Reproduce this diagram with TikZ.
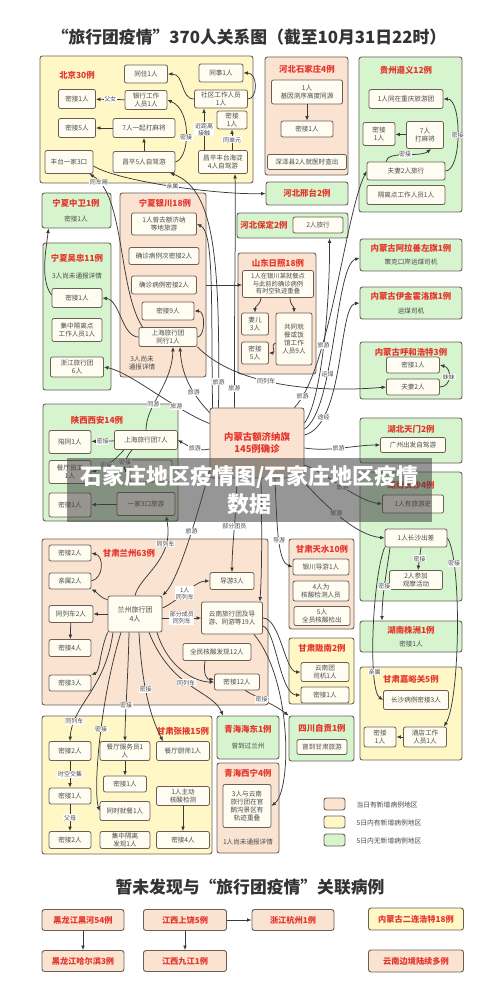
\documentclass[tikz,border=0pt]{standalone}
\usepackage{fontspec}
\setmainfont{Noto Sans CJK SC}
\usetikzlibrary{arrows.meta,positioning}
\definecolor{ink}{HTML}{3A3A3A}
\definecolor{txt}{HTML}{4A4A4A}
\definecolor{redt}{HTML}{E5352B}
\definecolor{peach}{HTML}{FBE3D2}
\definecolor{lemon}{HTML}{FFF8C6}
\definecolor{mint}{HTML}{D6F4CE}
\definecolor{cream}{HTML}{FFFDF2}
\definecolor{rim}{HTML}{6A5E55}
\tikzset{
  link/.style={-{Latex[length=4.5pt,width=3.8pt]},line width=0.75pt,draw=ink},
  zone/.style={draw=rim,line width=0.9pt,rounded corners=2.5pt,inner sep=0pt},
  cell/.style={draw=rim,line width=0.8pt,rounded corners=2pt,fill=cream,align=center,
               inner sep=1pt,text=txt,font=\fontsize{6.6}{7.8}\selectfont},
  head/.style={text=redt,font=\bfseries\fontsize{8.4}{10}\selectfont},
  plain/.style={text=txt,align=center,font=\fontsize{6.6}{7.8}\selectfont},
  tag/.style={fill=white,inner sep=0.6pt,text=txt,align=center,font=\fontsize{6}{7}\selectfont},
  other/.style={zone,fill=peach,minimum width=82,minimum height=21,text=redt,
                font=\bfseries\fontsize{8.2}{10}\selectfont},
  bigtitle/.style={text=black!80,font=\bfseries\fontsize{16.8}{20}\selectfont},
  legend/.style={anchor=west,text=txt,font=\fontsize{6.8}{8}\selectfont},
}
\begin{document}
\begin{tikzpicture}[x=1pt,y=1pt]
  \useasboundingbox (0,0) rectangle (500,-981);
  \fill[white] (0,0) rectangle (500,-981);
  \node[bigtitle] (title) at (249,-37) {“旅行团疫情”370人关系图（截至10月31日22时）};

  % 北京
  \node[zone,fill=lemon,minimum width=213,minimum height=127] (bj) at (146.5,-119.5) {};
  \node[head] (bjT) at (77,-75) {北京30例};
  \node[cell,minimum width=43,minimum height=18] (bjTong) at (146,-74) {同住1人};
  \node[cell,minimum width=44,minimum height=18] (bjShi) at (221,-73) {同事1人};
  \node[cell,minimum width=37,minimum height=19] (bjMj1) at (77,-99) {密接1人};
  \node[cell,minimum width=42,minimum height=19] (bjBank) at (146,-100) {银行工作\\人员1人};
  \node[cell,minimum width=53,minimum height=18] (bjSq) at (221,-99) {社区工作人员\\1人};
  \node[cell,minimum width=37,minimum height=19] (bjMj5) at (77,-128) {密接5人};
  \node[cell,minimum width=62,minimum height=19] (bjMah) at (144,-128) {7人一起打麻将};
  \node[cell,minimum width=30,minimum height=18] (bjMjR) at (232,-120) {密接\\1人};
  \node[cell,minimum width=48,minimum height=23] (bjFt) at (69,-162) {丰台一家3口};
  \node[cell,minimum width=62,minimum height=21] (bjCp) at (144,-162) {昌平5人自驾游};
  \node[cell,minimum width=49,minimum height=23] (bjCpft) at (223,-162) {昌平丰台海淀\\4人自驾游};

  % 河北
  \node[zone,fill=peach,minimum width=83,minimum height=118] (sjz) at (306.5,-116) {};
  \node[head] (sjzT) at (307,-69) {河北石家庄4例};
  \node[cell,minimum width=71,minimum height=24] (sjzA) at (307,-92) {1人\\基因测序高度同源};
  \node[cell,minimum width=52,minimum height=16] (sjzB) at (307,-129) {密接1人};
  \node[cell,minimum width=79,minimum height=15] (sjzC) at (307,-162) {深泽县2人就医时查出};
  \node[zone,head,fill=mint,minimum width=82,minimum height=23] (xt) at (307,-193.5) {河北邢台2例};
  \node[zone,fill=mint,minimum width=111,minimum height=25] (bd) at (292.5,-225.5) {};
  \node[head] (bdT) at (264,-225) {河北保定2例};
  \node[cell,minimum width=50,minimum height=16] (bdA) at (318,-225) {2人旅行};

  % 贵州
  \node[zone,fill=mint,minimum width=103,minimum height=155] (gz) at (410.5,-134.5) {};
  \node[head] (gzT) at (406,-70) {贵州遵义12例};
  \node[cell,minimum width=74,minimum height=19] (gzA) at (406,-99) {1人同在重庆旅游团};
  \node[cell,minimum width=32,minimum height=23] (gzB) at (379,-134) {密接\\1人};
  \node[cell,minimum width=37,minimum height=27] (gzC) at (425,-135) {7人\\打麻将};
  \node[cell,minimum width=78,minimum height=18] (gzD) at (406,-171) {夫妻2人旅行};
  \node[cell,minimum width=78,minimum height=19] (gzE) at (406,-195) {隔离点工作人员1人};

  % 宁夏
  \node[zone,fill=mint,minimum width=69,minimum height=35] (zw) at (76.5,-210.5) {};
  \node[head] (zwT) at (76,-203) {宁夏中卫1例};
  \node[plain] (zwA) at (76,-219) {密接1人};
  \node[zone,fill=mint,minimum width=68,minimum height=147] (wz) at (77,-316.5) {};
  \node[head] (wzT) at (77,-258) {宁夏吴忠11例};
  \node[plain] (wzN) at (77,-276) {3人尚未通报详情};
  \node[cell,minimum width=50,minimum height=19] (wzA) at (77,-298) {密接1人};
  \node[cell,minimum width=50,minimum height=23] (wzB) at (77,-330) {集中隔离点\\工作人员1人};
  \node[cell,minimum width=53,minimum height=20] (wzC) at (77,-367) {浙江旅行团\\6人};
  \node[zone,fill=peach,minimum width=86,minimum height=184] (yc) at (163,-285) {};
  \node[head] (ycT) at (165,-203) {宁夏银川18例};
  \node[cell,minimum width=65,minimum height=22] (ycA) at (164,-224) {1人曾去额济纳\\等地旅游};
  \node[cell,minimum width=70,minimum height=17] (ycB) at (164,-256) {确诊病例次密接2人};
  \node[cell,minimum width=65,minimum height=18] (ycC) at (164,-285) {确诊病例密接2人};
  \node[cell,minimum width=52,minimum height=18] (ycD) at (168,-311) {密接9人};
  \node[cell,minimum width=58,minimum height=19] (ycE) at (168,-337) {上海旅行团\\同行1人};
  \node[plain] (ycN) at (142,-363) {3人尚未\\通报详情};

  % 山东
  \node[zone,fill=peach,minimum width=78,minimum height=121] (sd) at (277,-313.5) {};
  \node[head] (sdT) at (278,-263) {山东日照18例};
  \node[cell,minimum width=71,minimum height=27,font=\fontsize{6.3}{7.6}\selectfont] (sdA) at (278,-284)
    {1人在银川某就餐点\\与此前的确诊病例\\有时空轨迹重叠};
  \node[cell,minimum width=27,minimum height=22] (sdB) at (255,-324) {妻儿\\3人};
  \node[cell,minimum width=27,minimum height=22] (sdC) at (255,-353) {密接\\5人};
  \node[cell,minimum width=36,minimum height=52] (sdD) at (294,-339) {共同就\\餐或饭\\馆工作\\人员9人};

  % 内蒙古 湖北 湖南 嘉峪关
  \node[zone,fill=mint,minimum width=102,minimum height=32] (al) at (411,-255) {};
  \node[head] (alT) at (411,-248) {内蒙古阿拉善左旗1例};
  \node[plain] (alA) at (411,-262) {策克口岸运煤司机};
  \node[zone,fill=mint,minimum width=102,minimum height=32] (yj) at (411,-303) {};
  \node[head] (yjT) at (411,-296) {内蒙古伊金霍洛旗1例};
  \node[plain] (yjA) at (411,-311) {运煤司机};
  \node[zone,fill=mint,minimum width=102,minimum height=57] (hh) at (411,-370.5) {};
  \node[head] (hhT) at (411,-352) {内蒙古呼和浩特3例};
  \node[cell,minimum width=53,minimum height=16] (hhA) at (413,-365) {密接1人};
  \node[cell,minimum width=53,minimum height=16] (hhB) at (413,-387) {夫妻2人};
  \node[zone,fill=mint,minimum width=102,minimum height=45] (tm) at (411,-440.5) {};
  \node[head] (tmT) at (411,-429) {湖北天门2例};
  \node[cell,minimum width=65,minimum height=15] (tmA) at (413,-445) {广州出发自驾游};
  \node[zone,fill=mint,minimum width=102,minimum height=129] (cs) at (411,-536.5) {};
  \node[head] (csT) at (411,-485) {湖南长沙4例};
  \node[cell,minimum width=61,minimum height=18] (csA) at (413,-504) {1人有旅游史};
  \node[cell,minimum width=62,minimum height=18] (csB) at (416,-538) {1人长沙出差};
  \node[cell,minimum width=53,minimum height=19] (csC) at (416,-580) {2人参加\\观摩活动};
  \node[zone,fill=mint,minimum width=102,minimum height=31] (zz) at (411,-636.5) {};
  \node[head] (zzT) at (411,-630) {湖南株洲1例};
  \node[plain] (zzA) at (411,-644) {密接1人};
  \node[zone,fill=lemon,minimum width=102,minimum height=93] (jy) at (411,-713.5) {};
  \node[head] (jyT) at (411,-679) {甘肃嘉峪关5例};
  \node[cell,minimum width=65,minimum height=19] (jyA) at (416,-700) {长沙病例密接3人};
  \node[cell,minimum width=32,minimum height=20] (jyB) at (380,-737) {密接\\1人};
  \node[cell,minimum width=43,minimum height=20] (jyC) at (425,-737) {酒店工作\\人员1人};

  % 天水 陇南 自贡 青海
  \node[zone,fill=peach,minimum width=65,minimum height=90] (ts) at (321.5,-584) {};
  \node[head] (tsT) at (322,-549) {甘肃天水10例};
  \node[cell,minimum width=56,minimum height=16] (tsA) at (321,-567) {银川导游1人};
  \node[cell,minimum width=56,minimum height=20] (tsB) at (321,-591) {4人为\\核酸检测人员};
  \node[cell,minimum width=56,minimum height=19] (tsC) at (322,-616) {5人\\全员核酸检出};
  \node[zone,fill=lemon,minimum width=65,minimum height=66] (ln) at (321.5,-671) {};
  \node[head] (lnT) at (322,-648) {甘肃陇南2例};
  \node[cell,minimum width=48,minimum height=19] (lnA) at (325,-672) {云南团\\司机1人};
  \node[cell,minimum width=48,minimum height=16] (lnB) at (325,-695) {密接1人};
  \node[zone,fill=mint,minimum width=65,minimum height=45] (zg) at (321.5,-738.5) {};
  \node[head] (zgT) at (322,-728) {四川自贡1例};
  \node[cell,minimum width=50,minimum height=15] (zgA) at (322,-747) {曾到甘肃旅游};
  \node[zone,fill=mint,minimum width=62,minimum height=43] (hd) at (248,-737.5) {};
  \node[head] (hdT) at (248,-729) {青海海东1例};
  \node[plain] (hdA) at (248,-746) {曾到过兰州};
  \node[zone,fill=peach,minimum width=62,minimum height=90] (xn) at (248,-808) {};
  \node[head] (xnT) at (248,-773) {青海西宁4例};
  \node[cell,minimum width=48,minimum height=43] (xnA) at (247,-806) {3人与云南\\旅行团在官\\鹅沟景区有\\轨迹重叠};
  \node[plain] (xnN) at (248,-842) {1人尚未通报详情};

  % 兰州
  \node[zone,fill=peach,minimum width=226,minimum height=166] (lz) at (155,-622) {};
  \node[head] (lzT) at (129,-553) {甘肃兰州63例};
  \node[cell,minimum width=42,minimum height=16] (lzA) at (70,-553) {密接2人};
  \node[cell,minimum width=42,minimum height=16] (lzB) at (70,-581) {亲属2人};
  \node[cell,minimum width=44,minimum height=17] (lzC) at (71,-614) {同列车2人};
  \node[cell,minimum width=42,minimum height=17] (lzD) at (70,-648) {密接4人};
  \node[cell,minimum width=42,minimum height=16] (lzE) at (70,-683) {密接3人};
  \node[cell,minimum width=54,minimum height=36,font=\fontsize{7}{9}\selectfont] (lzG) at (135,-614) {兰州旅行团\\4人};
  \node[cell,minimum width=44,minimum height=17] (lzH) at (232,-581) {导游3人};
  \node[cell,minimum width=61,minimum height=32] (lzY) at (232,-618) {云南旅行团及导\\游、同游等19人};
  \node[cell,minimum width=68,minimum height=17] (lzQ) at (217,-652) {全民核酸发现12人};
  \node[cell,minimum width=45,minimum height=16] (lzM) at (237,-682) {密接12人};

  % 陕西
  \node[zone,fill=mint,minimum width=135,minimum height=117] (xa) at (110.5,-462.5) {};
  \node[head] (xaT) at (97,-420) {陕西西安14例};
  \node[cell,minimum width=42,minimum height=23] (xaA) at (70,-442) {陪同1人};
  \node[cell,minimum width=63,minimum height=19] (xaB) at (146,-440) {上海旅行团7人};
  \node[cell,minimum width=42,minimum height=23] (xaC) at (70,-472) {餐厅员工\\1人};
  \node[cell,minimum width=42,minimum height=22] (xaD) at (151,-471) {};
  \node[cell,minimum width=42,minimum height=24] (xaE) at (70,-505) {密接1人};
  \node[cell,minimum width=58,minimum height=23] (xaF) at (146,-504) {一家3口旅游};

  % 张掖
  \node[zone,fill=lemon,minimum width=170,minimum height=138] (zy) at (127,-785) {};
  \node[head] (zyT) at (183,-731) {甘肃张掖15例};
  \node[cell,minimum width=42,minimum height=19] (zyA) at (70,-751) {密接2人};
  \node[cell,minimum width=50,minimum height=19] (zyB) at (125,-751) {餐厅服务员1\\人};
  \node[cell,minimum width=53,minimum height=19] (zyC) at (183,-751) {餐厅厨师1人};
  \node[cell,minimum width=42,minimum height=16] (zyD) at (70,-796) {密接1人};
  \node[cell,minimum width=43,minimum height=16] (zyE) at (125,-784) {密接1人};
  \node[cell,minimum width=50,minimum height=19] (zyF) at (125,-811) {同时就餐1人};
  \node[cell,minimum width=53,minimum height=19] (zyG) at (183,-796) {1人主动\\核酸检测};
  \node[cell,minimum width=42,minimum height=17] (zyH) at (70,-840) {密接2人};
  \node[cell,minimum width=50,minimum height=17] (zyI) at (125,-840) {集中隔离\\发现1人};
  \node[cell,minimum width=53,minimum height=17] (zyJ) at (183,-840) {密接4人};

  % 额济纳旗
  \node[zone,fill=peach,minimum width=94,minimum height=70,align=center,text=redt,
        font=\bfseries\fontsize{9.4}{12.5}\selectfont] (ejn) at (257,-443) {内蒙古额济纳旗\\145例确诊};

  % 北京 links
  \draw[link] (bjBank) -- node[tag]{父女} (bjMj1);
  \draw[link] (bjMah) -- (bjMj5);
  \draw[link] (bjCp) -- (bjMah);
  \draw[link] (bjCp.east) .. controls (190,-158) and (192,-110) .. node[tag,pos=.45]{密接} (bjBank.east);
  \draw[link] (bjSq.west) .. controls (180,-99) and (185,-74) .. (bjTong.east);
  \draw[link] (bjSq.east) .. controls (258,-99) and (258,-73) .. (bjShi.east);
  \draw[link] ([xshift=-19]bjCpft.north) -- node[tag]{近距离\\接触} ([xshift=-17]bjSq.south);
  \draw[link] ([xshift=9]bjCpft.north) -- node[tag]{同单元} (bjMjR.south);
  \draw[link] ([yshift=-4]bjFt.east) .. controls (120,-182) and (220,-195) .. node[tag,pos=.5]{亲属} (xt.west);
  \draw[link] (sjzA) -- (sjzB);

  % 贵州 links
  \draw[link] (gzC) -- (gzB);
  \draw[link] ([xshift=-20]gzD.north) .. controls (388,-150) and (420,-158) .. node[tag]{密接} ([xshift=6]gzC.south);
  \draw[link] (gzD.east) .. controls (462,-171) and (462,-99) .. node[tag]{密接} (gzA.east);

  % 宁夏 山东 links
  \draw[link] ([xshift=4]ycE.north west) .. controls (118,-290) and (125,-195) .. node[tag,pos=.9]{同车厢} ([xshift=-4]bjFt.south east);
  \draw[link] (ycE.west) .. controls (122,-337) and (120,-300) .. (wzA.east);
  \draw[link] (ycE.east) .. controls (205,-337) and (206,-311) .. (ycD.east);
  \draw[link] ([yshift=3]wzA.west) .. controls (40,-280) and (46,-250) .. ([xshift=-28]zw.south);
  \draw[link] (yc.east |- ycC.east) -- (sdA.west |- ycC.east);
  \draw[link] ([xshift=-17]sdA.south) .. controls (261,-304) and (255,-306) .. (sdB.north);
  \draw[link] ([xshift=12]sdA.south) .. controls (290,-305) and (294,-306) .. (sdD.north);
  \draw[link] ([yshift=-4]sdD.west) .. controls (270,-343) and (276,-353) .. (sdC.east);
  \draw[link] (ycE.south east) .. controls (240,-390) and (330,-392) .. node[tag,pos=.4]{同列车} (hhB.west);

  % 右列 links
  \draw[link] (hhB.east) .. controls (452,-387) and (452,-368) .. node[tag]{妹妹} (hhA.east);
  \draw[link] ([xshift=5]csB.south) -- node[tag]{密接} ([xshift=2]csC.north);
  \draw[link] ([xshift=-26]csB.south) .. controls (387,-570) and (382,-595) .. node[tag,pos=.55]{密接} ([xshift=-29]zz.north);
  \draw[link] (csB.south west) .. controls (372,-580) and (368,-690) .. node[tag,pos=.72]{亲属} (jyA.west);
  \draw[link] (csB.east) .. controls (462,-560) and (460,-700) .. node[tag,pos=.2]{密接} ([xshift=-3]jyC.north east);
  \draw[link] (jyC) -- (jyB);

  % 额济纳旗 links
  \draw[link] ([xshift=3]ejn.north west) .. controls (211,-300) and (214,-232) .. (ycA.east);
  \draw[link] ([xshift=9]ejn.north west) .. controls (220,-260) and (215,-190) .. node[tag,pos=.06]{旅游} ([xshift=26]bjCp.south);
  \draw[link] ([xshift=25]ejn.north west) .. controls (234,-300) and (236,-230) .. node[tag,pos=.06]{旅游} ([xshift=12]bjCpft.south);
  \draw[link] ([yshift=-5]ejn.north west) .. controls (196,-398) and (182,-380) .. node[tag,pos=.4]{旅游} ([xshift=12]ycE.south);
  \draw[link] (xaB.north) .. controls (146,-405) and (172,-385) .. node[tag,pos=.35]{同游} ([xshift=5]ycE.south);
  \draw[link] ([yshift=-16]ejn.north west) .. controls (175,-410) and (130,-372) .. node[tag,pos=.3]{旅游} (wzC.east);
  \draw[link] ([yshift=-6]ejn.west) .. controls (198,-452) and (188,-446) .. node[tag,pos=.45]{旅游} (xaB.east);
  \draw[link] ([xshift=-10]ejn.north east) .. controls (330,-370) and (345,-215) .. node[tag,pos=.08]{旅游} (gzD.west);
  \draw[link] ([yshift=20]ejn.east) .. controls (322,-400) and (330,-300) .. node[tag,pos=.5]{旅游} ([xshift=37]bd.south);
  \draw[link] ([yshift=14]ejn.east) .. controls (335,-410) and (335,-265) .. node[tag,pos=.35]{运煤} ([yshift=-3]al.west);
  \draw[link] ([yshift=8]ejn.east) .. controls (345,-425) and (338,-305) .. node[tag,pos=.2]{途经} (yj.west);
  \draw[link] ([yshift=-5]ejn.east) .. controls (330,-452) and (355,-445) .. node[tag,pos=.45]{旅游} (tmA.west);
  \draw[link] ([yshift=-22]ejn.east) .. controls (330,-475) and (355,-500) .. node[tag,pos=.5]{旅游} (csA.west);
  \draw[link] ([xshift=-4]ejn.south east) .. controls (325,-505) and (355,-535) .. node[tag,pos=.45]{旅游} (csB.west);
  \draw[link] ([xshift=18]ejn.south) .. controls (277,-530) and (278,-562) .. node[tag,pos=.5]{导游} (tsA.west);
  \draw[link] ([xshift=4]ejn.south) .. controls (262,-530) and (262,-570) .. ([xshift=-3]lzY.north east);
  \draw[link] ([xshift=-20]ejn.south) .. controls (236,-520) and (232,-545) .. node[tag,pos=.45]{部分团员} (lzH.north);
  \draw[link] ([yshift=8]ejn.south west) .. controls (196,-520) and (178,-580) .. node[tag,pos=.4]{旅游} (lzG.north east);

  % 陕西 links
  \draw[link] (lzG.north) .. controls (140,-575) and (175,-560) .. node[tag,pos=.75]{同列车} ([xshift=20]xaF.south);
  \draw[link] (xaB) -- node[tag]{密接} (xaA);
  \draw[link] ([xshift=-22]xaB.south) .. controls (115,-460) and (105,-468) .. node[tag,pos=.6]{密接} (xaC.east);
  \draw[link] ([xshift=-14]xaB.south) .. controls (122,-462) and (124,-470) .. node[tag,pos=.4]{密接} (xaD.west);
  \draw[link] (xaF) -- (xaE);

  % 兰州 links
  \draw[link] ([yshift=-4]lzG.north west) .. controls (100,-598) and (97,-592) .. (lzB.south east);
  \draw[link] (lzB.east) .. controls (104,-578) and (104,-556) .. (lzA.east);
  \draw[link] (lzG.west) -- (lzC.east);
  \draw[link] (lzC) -- (lzD);
  \draw[link] (lzG.south west) .. controls (100,-650) and (100,-672) .. (lzE.north east);
  \draw[link] ([yshift=6]lzG.east) .. controls (180,-600) and (195,-581) .. node[tag,pos=.45]{1人\\同列车} (lzH.west);
  \draw[link] ([yshift=-4]lzG.east) -- node[tag]{部分成员\\同列车} (lzY.west);
  \draw[link] ([xshift=22]lzG.south) .. controls (168,-668) and (195,-682) .. (lzM.west);
  \draw[link] ([xshift=-12]lzQ.south) .. controls (203,-675) and (207,-680) .. ([yshift=3]lzM.west);
  \draw[link] ([xshift=14]lzG.south) .. controls (172,-690) and (212,-690) .. node[tag,pos=.45]{同列车} ([xshift=-25]hd.north);
  \draw[link] (lzY.east) .. controls (280,-618) and (285,-672) .. (lnA.west);
  \draw[link] ([yshift=-8]lzY.east) .. controls (276,-630) and (280,-695) .. (lnB.west);
  \draw[link] ([xshift=22]lzY.south) .. controls (292,-680) and (292,-790) .. (xnA.east);
  \draw[link] ([xshift=8]lzM.south) .. controls (262,-700) and (275,-705) .. node[tag,pos=.35]{密接} (zg.north west);

  % 张掖 links
  \draw[link] ([xshift=-22]lzG.south) .. controls (105,-690) and (72,-705) .. node[tag,pos=.8]{同列车} (zyA.north);
  \draw[link] ([xshift=-14]lzG.south) .. controls (100,-700) and (93,-790) .. node[tag,pos=.45]{密接} (zyF.west);
  \draw[link] ([xshift=-6]lzG.south) .. controls (128,-680) and (125,-715) .. node[tag,pos=.6]{密接} (zyB.north);
  \draw[link] ([xshift=4]lzG.south) .. controls (142,-690) and (152,-720) .. node[tag,pos=.4]{密接} ([xshift=-20]zyC.north);
  \draw[link] (zyB) -- (zyE);
  \draw[link] (zyA) -- node[tag]{时空交集} (zyD);
  \draw[link] (zyD) -- node[tag]{父母} (zyH);
  \draw[link] (zyG) -- (zyJ);

  % 图例
  \node[zone,fill=peach,minimum width=21,minimum height=12] (lgA) at (334.5,-804) {};
  \node[legend] (lgAt) at (353,-805) {当日有新增病例地区};
  \node[zone,fill=lemon,minimum width=21,minimum height=12] (lgB) at (334.5,-822) {};
  \node[legend] (lgBt) at (353,-823) {5日内有新增病例地区};
  \node[zone,fill=mint,minimum width=21,minimum height=12] (lgC) at (334.5,-840) {};
  \node[legend] (lgCt) at (353,-841) {5日内无新增病例地区};

  % 暂未发现
  \node[bigtitle] (title2) at (250,-887) {暂未发现与“旅行团疫情”关联病例};
  \node[other] (bHh) at (83,-920) {黑龙江黑河54例};
  \node[other] (bHeb) at (83,-961) {黑龙江哈尔滨3例};
  \node[other,minimum width=83] (bSr) at (185,-920) {江西上饶5例};
  \node[other,minimum width=83] (bJj) at (185,-961) {江西九江1例};
  \node[other] (bHz) at (293,-920) {浙江杭州1例};
  \node[other,fill=lemon,minimum width=95,minimum height=22] (bEl) at (416,-919) {内蒙古二连浩特18例};
  \node[other,minimum width=95,minimum height=22] (bYn) at (416,-961) {云南边境陆续多例};
  \draw[link] (bHh) -- (bHeb);
  \draw[link] (bSr) -- (bJj);
  \draw[link] (bSr) -- (bHz);

  % 水印条
  \node[fill=black!75,fill opacity=.55,text opacity=1,text=white,minimum width=365,minimum height=64,
        inner sep=0pt,align=center,font=\bfseries\fontsize{22}{28}\selectfont] (cap) at (249.5,-490)
        {石家庄地区疫情图/石家庄地区疫情\\数据};
\end{tikzpicture}
\end{document}
